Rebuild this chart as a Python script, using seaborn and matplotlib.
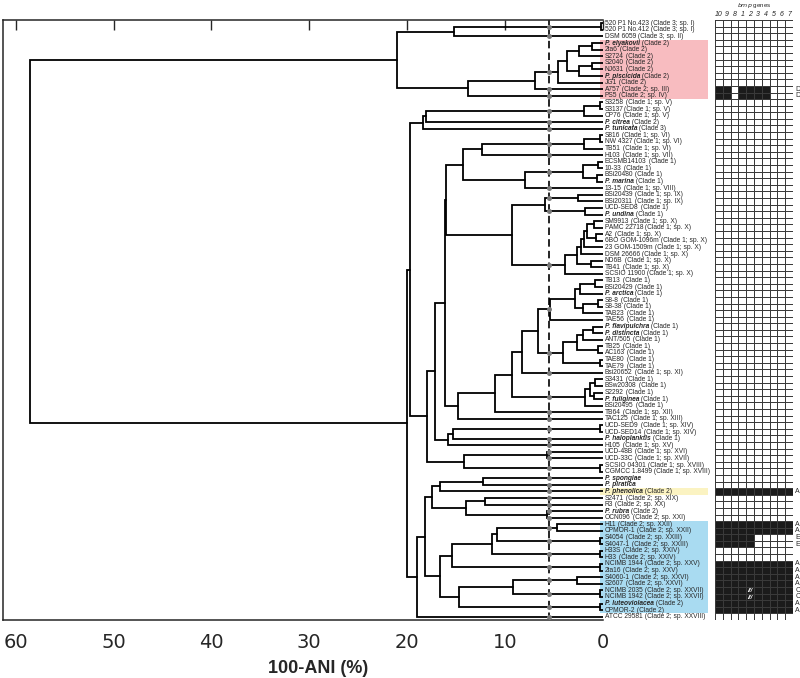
import matplotlib
matplotlib.use("Agg")
import matplotlib.pyplot as plt
import seaborn as sns
import pandas as pd
from matplotlib.transforms import blended_transform_factory

# ---------------- data ----------------
strain_names = [
    "520 P1 No.423", "520 P1 No.412", "DSM 6059", "P. elyakovii", "2ta6", "S2724", "S2040",
    "NJ631", "P. piscicida", "JG1", "A757", "PS5", "S3258", "S3137", "CP76", "P. citrea",
    "P. tunicata", "S816", "NW 4327", "TB51", "H103", "ECSMB14103", "10-33", "BSi20480",
    "P. marina", "13-15", "BSi20439", "BSi20311", "UCD-SED8", "P. undina", "SM9913",
    "PAMC 22718", "A2", "6BO GOM-1096m", "23 GOM-1509m", "DSM 26666", "ND6B", "TB41",
    "SCSIO 11900", "TB13", "BSi20429", "P. arctica", "S8-8", "S8-38", "TAB23", "TAE56",
    "P. flavipulchra", "P. distincta", "ANT/505", "TB25", "AC163", "TAE80", "TAE79",
    "Bsi20652", "S3431", "BSw20308", "S2292", "P. fuliginea", "BSi20495", "TB64", "TAC125",
    "UCD-SED9", "UCD-SED14", "P. haloplanktis", "H105", "UCD-48B", "UCD-33C", "SCSIO 04301",
    "CGMCC 1.8499", "P. spongiae", "P. piratica", "P. phenolica", "S2471", "R3", "P. rubra",
    "OCN096", "H11", "CPMOR-1", "S4054", "S4047-1", "H33S", "H33", "NCIMB 1944", "2ta16",
    "S4060-1", "S2607", "NCIMB 2035", "NCIMB 1942", "P. luteoviolacea", "CPMOR-2", "ATCC 29581",
]
strain_notes = [
    " (Clade 3; sp. I)", " (Clade 3; sp. I)", " (Clade 3; sp. II)", " (Clade 2)", " (Clade 2)",
    " (Clade 2)", " (Clade 2)", " (Clade 2)", " (Clade 2)", " (Clade 2)", " (Clade 2; sp. III)",
    " (Clade 2; sp. IV)", " (Clade 1; sp. V)", "(Clade 1; sp. V)", " (Clade 1; sp. V)",
    " (Clade 2)", " (Clade 3)", " (Clade 1; sp. VI)", " (Clade 1; sp. VI)", " (Clade 1; sp. VI)",
    " (Clade 1; sp. VII)", " (Clade 1)", " (Clade 1)", " (Clade 1)", " (Clade 1)",
    " (Clade 1; sp. VIII)", " (Clade 1; sp. IX)", " (Clade 1; sp. IX)", " (Clade 1)",
    " (Clade 1)", " (Clade 1; sp. X)", " (Clade 1; sp. X)", " (Clade 1; sp. X)",
    " (Clade 1; sp. X)", " (Clade 1; sp. X)", " (Clade 1; sp. X)", " (Clade 1; sp. X)",
    " (Clade 1; sp. X)", " (Clade 1; sp. X)", " (Clade 1)", " (Clade 1)", " (Clade 1)",
    " (Clade 1)", " (Clade 1)", " (Clade 1)", " (Clade 1)", " (Clade 1)", " (Clade 1)",
    " (Clade 1)", " (Clade 1)", " (Clade 1)", " (Clade 1)", " (Clade 1)", " (Clade 1; sp. XI)",
    " (Clade 1)", " (Clade 1)", " (Clade 1)", " (Clade 1)", " (Clade 1)", " (Clade 1; sp. XII)",
    " (Clade 1; sp. XIII)", " (Clade 1; sp. XIV)", " (Clade 1; sp. XIV)", " (Clade 1)",
    " (Clade 1; sp. XV)", " (Clade 1; sp. XVI)", " (Clade 1; sp. XVII)", " (Clade 1; sp. XVIII)",
    " (Clade 1; sp. XVIII)", "", "", " (Clade 2)", " (Clade 2; sp. XIX)", " (Clade 2; sp. XX)",
    " (Clade 2)", " (Clade 2; sp. XXI)", " (Clade 2; sp. XXII)", " (Clade 2; sp. XXII)",
    " (Clade 2; sp. XXIII)", " (Clade 2; sp. XXIII)", " (Clade 2; sp. XXIV)",
    " (Clade 2; sp. XXIV)", " (Clade 2; sp. XXV)", " (Clade 2; sp. XXV)", " (Clade 2; sp. XXVI)",
    " (Clade 2; sp. XXVI)", " (Clade 2; sp. XXVII)", " (Clade 2; sp. XXVII)", " (Clade 2)",
    " (Clade 2)", " (Clade 2; sp. XXVIII)",
]

# tree: [left, right, 100-ANI height]; leaves are row indices into strain_names
clade_3 = [[0, 1, 0.2], 2, 15.2]
clade_2a = [[[[[[3, 4, 1.1], 5, 2.4], [[6, 7, 1.1], 8, 2.4], 3.6], 9, 4.5], 10, 6.9], 11, 13.8]
top_clade = [clade_3, clade_2a, 21.0]

grp_13_17 = [[[[12, 13, 0.3], 14, 1.9], 15, 18.0], 16, 18.4]
grp_18_21 = [[[17, 18, 0.3], 19, 1.9], 20, 12.35]
grp_22_26 = [[[21, 22, 0.5], [23, 24, 0.6], 2.0], 25, 7.9]
grp_27_30 = [[26, 27, 2.47], [28, 29, 1.8], 5.88]
grp_sp_x = [[[[[[30, 31, 0.9], [32, 33, 0.7], 1.6], 34, 1.9], 35, 2.2], [36, 37, 1.2], 2.6], 38, 3.84]
grp_40_46 = [[[[39, 40, 0.8], 41, 2.3], [[42, 43, 0.5], 44, 1.97], 2.8], 45, 5.37]
grp_47_53 = [[[[46, 47, 1.0], 48, 1.97], [49, 50, 0.5], 2.65], [51, 52, 0.3], 4.0]
grp_55_59 = [[[54, 55, 0.8], [56, 57, 0.9], 1.3], 58, 1.8]
grp_40_61 = [[[[[grp_40_46, grp_47_53, 6.56], 53, 8.27], grp_55_59, 9.29], 59, 11.0], 60, 14.75]
grp_18_61 = [[[grp_18_21, grp_22_26, 14.3], [grp_27_30, grp_sp_x, 9.29], 16.0], grp_40_61, 16.15]
grp_62_65 = [[[61, 62, 0.3], 63, 15.25], 64, 15.77]
grp_66_69 = [[65, 66, 5.7], [67, 68, 0.25], 14.17]
grp_13_69 = [grp_13_17, [[grp_18_61, grp_62_65, 17.13], grp_66_69, 17.9], 19.69]
grp_70_76 = [[[69, 70, 12.2], 71, 16.6], [[72, 73, 12.0], [74, 75, 5.7], 14.0], 17.4]
grp_77_84 = [[[[76, 77, 4.7], [78, 79, 0.3], 10.8], [80, 81, 0.3], 11.34], [82, 83, 0.3], 15.36]
grp_85_90 = [[[84, 85, 2.65], [86, 87, 0.25], 9.12], [88, 89, 0.3], 14.68]
clade_2b = [[grp_70_76, [grp_77_84, grp_85_90, 16.6], 18.1], 90, 18.94]
tree = [top_clade, [grp_13_69, clade_2b, 19.96], 58.5]

species_cutoff = 5.45  # 100-ANI threshold (dashed line)

highlight_pink = ["P. elyakovii", "2ta6", "S2724", "S2040", "NJ631", "P. piscicida", "JG1", "A757", "PS5"]
highlight_yellow = ["P. phenolica"]
highlight_blue = ["H11", "CPMOR-1", "S4054", "S4047-1", "H33S", "H33", "NCIMB 1944", "2ta16",
                  "S4060-1", "S2607", "NCIMB 2035", "NCIMB 1942", "P. luteoviolacea", "CPMOR-2"]

bmp_genes = ["10", "9", "8", "1", "2", "3", "4", "5", "6", "7"]
bmp_cells = {
    "A757": "1101111000", "PS5": "1101111000", "P. phenolica": "1111111111",
    "H11": "1111111111", "CPMOR-1": "1111111111", "S4054": "1111100000", "S4047-1": "1111100000",
    "NCIMB 1944": "1111111111", "2ta16": "1111111111", "S4060-1": "1111111111",
    "S2607": "1111111111", "NCIMB 2035": "1111111111", "NCIMB 1942": "1111111111",
    "P. luteoviolacea": "1111111111", "CPMOR-2": "1111111111",
}
bmp_type = {
    "A757": "D", "PS5": "D", "P. phenolica": "A", "H11": "A", "CPMOR-1": "A", "S4054": "E",
    "S4047-1": "E", "NCIMB 1944": "A", "2ta16": "A", "S4060-1": "A", "S2607": "A",
    "NCIMB 2035": "C", "NCIMB 1942": "C", "P. luteoviolacea": "A", "CPMOR-2": "A",
}
bmp_broken = {"NCIMB 2035": "2", "NCIMB 1942": "2"}

# ---------------- figure ----------------
sns.set_style("white")
plt.rcParams["font.family"] = ["Liberation Sans", "DejaVu Sans"]

W, H = 800, 678
fig = plt.figure(figsize=(W / 100, H / 100), dpi=100)
top_px, bot_px = 20, 620
ax = fig.add_axes([3 / W, 1 - bot_px / H, 599.5 / W, (bot_px - top_px) / H])
hx = fig.add_axes([715 / W, 1 - bot_px / H, 78 / W, (bot_px - top_px) / H])

n = len(strain_names)
dot_rows = []


def draw(node):
    if isinstance(node, int):
        return 0.0, float(node)
    left, right, h = node
    xl, yl = draw(left)
    xr, yr = draw(right)
    ax.plot([xl, h, h, xr], [yl, yl, yr, yr], color="black", lw=1.3,
            solid_joinstyle="miter", zorder=3)
    for x0, y0 in ((xl, yl), (xr, yr)):
        if x0 < species_cutoff < h:
            dot_rows.append(y0)
    return h, (yl + yr) / 2


draw(tree)
ax.axvline(species_cutoff, color="black", lw=1.2, ls=(0, (4.5, 2.5)), zorder=2)
ax.scatter([species_cutoff] * len(dot_rows), dot_rows, s=13, color="#7a7a7a", zorder=4, lw=0)

ax.set_xlim(61.3, 0)
ax.set_ylim(n - 0.5, -0.5)
ax.set_yticks([])
ax.set_xticks([60, 50, 40, 30, 20, 10, 0])
ax.tick_params(axis="x", direction="in", length=7, width=1, top=True, labelsize=14, pad=9)
for lab in ax.get_xticklabels():
    lab.set_fontfamily("DejaVu Sans")
ax.spines["right"].set_visible(False)
for s in ("left", "top", "bottom"):
    ax.spines[s].set_linewidth(1.1)
ax.set_xlabel("100-ANI (%)", fontsize=13, fontweight="bold")
ax.xaxis.set_label_coords((318 - 3) / 599.5, -(660 - bot_px) / (bot_px - top_px))

# highlight bands behind labels
band_tr = blended_transform_factory(fig.transFigure, ax.transData)
for names, col in ((highlight_pink, "#F8BCC0"), (highlight_yellow, "#FBF3C2"), (highlight_blue, "#A9DBF1")):
    rows = [strain_names.index(s) for s in names]
    ax.add_patch(plt.Rectangle((600 / W, min(rows) - 0.5), 108 / W, len(rows), transform=band_tr,
                               facecolor=col, edgecolor="none", zorder=0, clip_on=False))

# leaf labels
lab_tr = blended_transform_factory(ax.transAxes, ax.transData)
for i, (name, note) in enumerate(zip(strain_names, strain_notes)):
    italic = name.startswith("P. ")
    t = ax.text(1.004, i, name, transform=lab_tr, fontsize=4.8, va="center", ha="left",
                fontstyle="italic" if italic else "normal",
                fontweight="bold" if italic else "normal", clip_on=False, zorder=5)
    if note:
        ax.annotate(note, xy=(1, 0), xycoords=t, fontsize=4.8, va="bottom", ha="left", zorder=5)

# bmp gene grid
bmp = pd.DataFrame(0, index=strain_names, columns=bmp_genes)
for name, pattern in bmp_cells.items():
    bmp.loc[name] = [int(c) for c in pattern]
sns.heatmap(bmp, ax=hx, cmap=["white", "#1b1b1b"], vmin=0, vmax=1, cbar=False,
            linewidths=0.5, linecolor="#3a3a3a", xticklabels=bmp_genes, yticklabels=False)
hx.xaxis.tick_top()
hx.tick_params(axis="x", length=0, pad=1.5)
for lab in hx.get_xticklabels():
    lab.set_fontsize(5)
    lab.set_fontstyle("italic")
    lab.set_rotation(0)
hx.set_xlabel("")
hx.set_ylabel("")
hx.set_title(r"$\it{bmp}$ genes", fontsize=4.5, pad=9)
hx_tr = blended_transform_factory(hx.transAxes, hx.transData)
for name, letter in bmp_type.items():
    hx.text(1.03, strain_names.index(name) + 0.5, letter, transform=hx_tr, fontsize=5,
            va="center", ha="left", clip_on=False)
for name, gene in bmp_broken.items():
    hx.text(bmp_genes.index(gene) + 0.5, strain_names.index(name) + 0.55, "///", color="white",
            fontsize=4.5, fontstyle="italic", fontweight="bold", ha="center", va="center")

fig.savefig("out.png", dpi=100)
